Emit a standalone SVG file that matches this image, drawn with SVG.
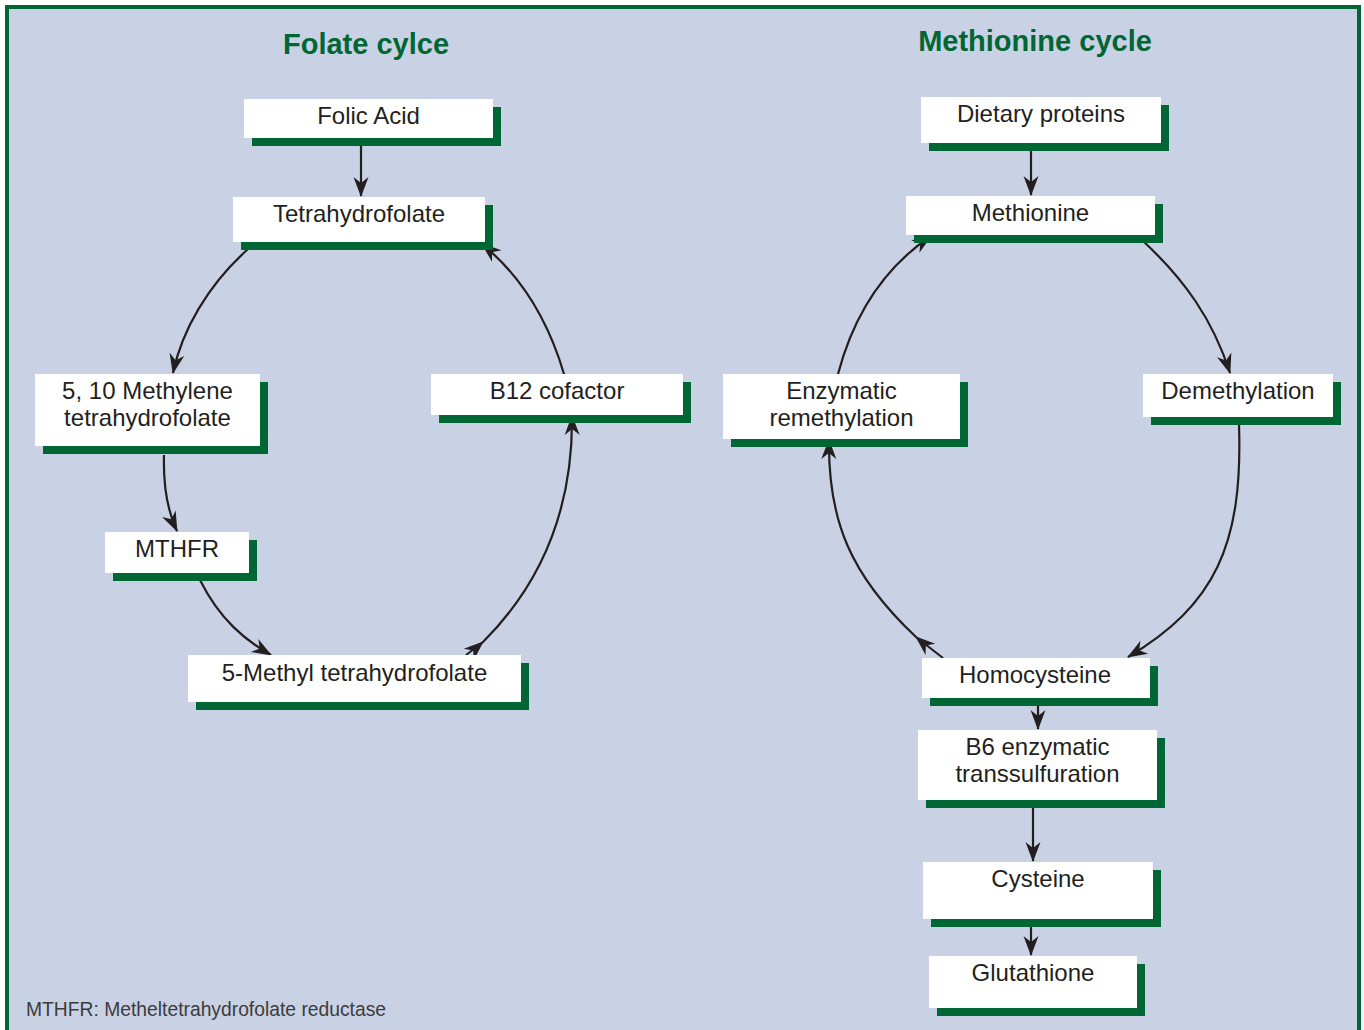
<svg xmlns="http://www.w3.org/2000/svg" width="1364" height="1030" viewBox="0 0 1364 1030">
<style>
.sh{fill:#006633}
.bx{fill:#ffffff}
.t{font-family:"Liberation Sans",Arial,sans-serif;font-size:24px;fill:#231f20;text-anchor:middle}
.ttl{font-family:"Liberation Sans",Arial,sans-serif;font-size:29px;font-weight:bold;fill:#006633;text-anchor:middle}
.c{fill:none;stroke:#231f20;stroke-width:2.2}
.note{font-family:"Liberation Sans",Arial,sans-serif;font-size:19.3px;fill:#3c3c3c}
</style>
<defs>
<marker id="ah" markerUnits="userSpaceOnUse" markerWidth="22" markerHeight="16" refX="0" refY="0" orient="auto" overflow="visible">
<path d="M1,0 L-19,-7.5 L-13,0 L-19,7.5 Z" fill="#231f20"/>
</marker>
</defs>
<rect x="0" y="0" width="1364" height="1030" fill="#ffffff"/>
<rect x="7" y="7" width="1352" height="1050" fill="#c9d1e4" stroke="#006633" stroke-width="4"/>
<text class="ttl" x="366" y="54">Folate cylce</text>
<text class="ttl" x="1035" y="51">Methionine cycle</text>

<g id="connectors">
<path class="c" d="M361,146 L361,196" marker-end="url(#ah)"/>
<path class="c" d="M248,249 C208,285 182,330 173,373" marker-end="url(#ah)"/>
<path class="c" d="M164,455 C163,490 168,512 177,531" marker-end="url(#ah)"/>
<path class="c" d="M200,580 C220,620 245,640 271,655" marker-end="url(#ah)"/>
<path class="c" d="M466,655 L483,642 C540,585 573,510 572,416" marker-mid="url(#ah)" marker-end="url(#ah)"/>
<path class="c" d="M564,374 C548,320 520,275 482,244" marker-end="url(#ah)"/>
<path class="c" d="M1031,151 L1031,195" marker-end="url(#ah)"/>
<path class="c" d="M1143,241 C1185,280 1213,320 1230,373" marker-end="url(#ah)"/>
<path class="c" d="M1239,425 C1243,545 1215,605 1128,657" marker-end="url(#ah)"/>
<path class="c" d="M943,658 L916,637 C850,575 828,520 829,440" marker-mid="url(#ah)" marker-end="url(#ah)"/>
<path class="c" d="M838,374 C855,310 888,265 931,236" marker-end="url(#ah)"/>
<path class="c" d="M1038,706 L1038,729" marker-end="url(#ah)"/>
<path class="c" d="M1033,808 L1033,861" marker-end="url(#ah)"/>
<path class="c" d="M1031,927 L1031,955" marker-end="url(#ah)"/>
</g>

<g id="folic-acid"><rect class="sh" x="252" y="107" width="249" height="39"/><rect class="bx" x="244" y="99" width="249" height="39"/><text class="t" x="368.5" y="124">Folic Acid</text></g>
<g id="tetrahydrofolate"><rect class="sh" x="241" y="205" width="252" height="45"/><rect class="bx" x="233" y="197" width="252" height="45"/><text class="t" x="359" y="222">Tetrahydrofolate</text></g>
<g id="methylene-thf"><rect class="sh" x="43" y="382" width="225" height="72"/><rect class="bx" x="35" y="374" width="225" height="72"/><text class="t" x="147.5" y="399">5, 10 Methylene</text><text class="t" x="147.5" y="426">tetrahydrofolate</text></g>
<g id="b12-cofactor"><rect class="sh" x="439" y="382" width="252" height="41"/><rect class="bx" x="431" y="374" width="252" height="41"/><text class="t" x="557" y="399">B12 cofactor</text></g>
<g id="mthfr"><rect class="sh" x="113" y="540" width="144" height="41"/><rect class="bx" x="105" y="532" width="144" height="41"/><text class="t" x="177" y="557">MTHFR</text></g>
<g id="methyl-thf"><rect class="sh" x="196" y="663" width="333" height="47"/><rect class="bx" x="188" y="655" width="333" height="47"/><text class="t" x="354.5" y="681">5-Methyl tetrahydrofolate</text></g>

<g id="dietary-proteins"><rect class="sh" x="929" y="105" width="240" height="46"/><rect class="bx" x="921" y="97" width="240" height="46"/><text class="t" x="1041" y="122">Dietary proteins</text></g>
<g id="methionine"><rect class="sh" x="914" y="204" width="249" height="39"/><rect class="bx" x="906" y="196" width="249" height="39"/><text class="t" x="1030.5" y="221">Methionine</text></g>
<g id="enzymatic-remethylation"><rect class="sh" x="731" y="382" width="237" height="65"/><rect class="bx" x="723" y="374" width="237" height="65"/><text class="t" x="841.5" y="399">Enzymatic</text><text class="t" x="841.5" y="426">remethylation</text></g>
<g id="demethylation"><rect class="sh" x="1151" y="382" width="190" height="43"/><rect class="bx" x="1143" y="374" width="190" height="43"/><text class="t" x="1238" y="399">Demethylation</text></g>
<g id="homocysteine"><rect class="sh" x="930" y="666" width="228" height="40"/><rect class="bx" x="922" y="658" width="228" height="40"/><text class="t" x="1035" y="683">Homocysteine</text></g>
<g id="b6-transsulfuration"><rect class="sh" x="926" y="738" width="239" height="70"/><rect class="bx" x="918" y="730" width="239" height="70"/><text class="t" x="1037.5" y="755">B6 enzymatic</text><text class="t" x="1037.5" y="782">transsulfuration</text></g>
<g id="cysteine"><rect class="sh" x="931" y="870" width="230" height="57"/><rect class="bx" x="923" y="862" width="230" height="57"/><text class="t" x="1038" y="887">Cysteine</text></g>
<g id="glutathione"><rect class="sh" x="937" y="964" width="208" height="52"/><rect class="bx" x="929" y="956" width="208" height="52"/><text class="t" x="1033" y="981">Glutathione</text></g>

<text class="note" x="26" y="1016">MTHFR: Metheltetrahydrofolate reductase</text>
</svg>
